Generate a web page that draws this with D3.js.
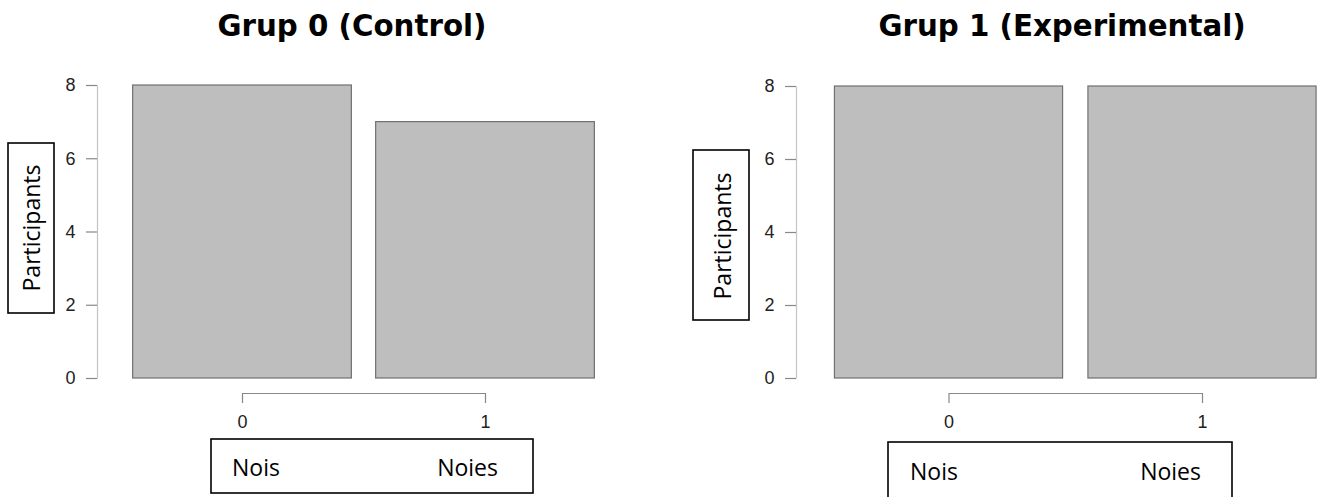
<!DOCTYPE html>
<html>
<head>
<meta charset="utf-8">
<script src="https://cdn.jsdelivr.net/npm/d3@7/dist/d3.min.js"></script>
<style>
  html, body { margin: 0; padding: 0; background: #fff; }
  svg { display: block; }
</style>
</head>
<body>
<svg id="chart" width="1325" height="497"></svg>
<script>
// ---- data ----
const categories = [0, 1];
const groupTitles = ["Grup 0 (Control)", "Grup 1 (Experimental)"];
const controlCounts = [8, 7];
const experimentalCounts = [8, 8];
const yTicks = [0, 2, 4, 6, 8];
const xLabels = ["Nois", "Noies"];
const yLabel = "Participants";

// ---- layout (positions only) ----
const panels = [
  { title: groupTitles[0], values: controlCounts, titleX: 352,
    xRange: [242, 485], yRange: [378, 85], axisX: 97, axisY: 393,
    ybox: [8, 143, 46, 170], ylabel: [31, 228],
    xbox: [211, 439, 322, 54], xtext: [232, 498, 476] },
  { title: groupTitles[1], values: experimentalCounts, titleX: 1062,
    xRange: [948.5, 1202], yRange: [378, 86], axisX: 796, axisY: 393,
    ybox: [693, 150, 56, 170], ylabel: [722, 236],
    xbox: [888, 442, 344, 70], xtext: [910, 1201, 480] }
];

const svg = d3.select("#chart");

function styleTickText(sel) {
  sel.selectAll(".tick text")
    .attr("font-family", "Liberation Sans")
    .attr("font-size", "18px")
    .attr("fill", "#222");
}

panels.forEach(p => {
  const g = svg.append("g");
  const x = d3.scaleLinear().domain([0, 1]).range(p.xRange);
  const y = d3.scaleLinear().domain([0, 8]).range(p.yRange);
  const halfW = 0.45;

  // title
  g.append("text")
    .attr("x", p.titleX).attr("y", 36)
    .attr("text-anchor", "middle")
    .attr("font-family", "DejaVu Sans")
    .attr("font-weight", "bold")
    .attr("font-size", 29.3)
    .attr("fill", "#000")
    .text(p.title);

  // bars
  g.selectAll("rect.bar").data(categories).enter().append("rect")
    .attr("class", "bar")
    .attr("x", d => x(d - halfW))
    .attr("width", d => x(d + halfW) - x(d - halfW))
    .attr("y", (d, i) => y(p.values[i]))
    .attr("height", (d, i) => y(0) - y(p.values[i]))
    .attr("fill", "#bebebe")
    .attr("stroke", "#707070")
    .attr("stroke-width", 1.2);

  // y axis
  const yAxis = d3.axisLeft(y).tickValues(yTicks).tickSize(11).tickPadding(10.5).tickSizeOuter(0);
  const ya = g.append("g").attr("transform", `translate(${p.axisX},0)`).call(yAxis);
  ya.attr("font-size", null).attr("font-family", null);
  ya.select(".domain").attr("stroke", "#c4c4c4").attr("stroke-width", 1.2);
  ya.selectAll(".tick line").attr("stroke", "#888").attr("stroke-width", 1.2);
  styleTickText(ya);

  // x axis (bracket with ticks going down)
  const xAxis = d3.axisBottom(x).tickValues(categories).tickFormat(d3.format("d"))
    .tickSize(10).tickSizeOuter(0).tickPadding(12);
  const xa = g.append("g").attr("transform", `translate(0,${p.axisY})`).call(xAxis);
  xa.attr("font-size", null).attr("font-family", null);
  xa.select(".domain").attr("stroke", "#888").attr("stroke-width", 1.2);
  xa.selectAll(".tick line").attr("stroke", "#888").attr("stroke-width", 1.2);
  styleTickText(xa);

  // y label box
  g.append("rect")
    .attr("x", p.ybox[0]).attr("y", p.ybox[1])
    .attr("width", p.ybox[2]).attr("height", p.ybox[3])
    .attr("fill", "none").attr("stroke", "#000").attr("stroke-width", 1.6);
  g.append("text")
    .attr("transform", `translate(${p.ylabel[0]},${p.ylabel[1]}) rotate(-90)`)
    .attr("text-anchor", "middle").attr("dominant-baseline", "central")
    .attr("font-family", "Open Sans").attr("font-size", 23).attr("fill", "#000")
    .text(yLabel);

  // x label box
  g.append("rect")
    .attr("x", p.xbox[0]).attr("y", p.xbox[1])
    .attr("width", p.xbox[2]).attr("height", p.xbox[3])
    .attr("fill", "none").attr("stroke", "#000").attr("stroke-width", 1.6);
  g.append("text")
    .attr("x", p.xtext[0]).attr("y", p.xtext[2])
    .attr("font-family", "Open Sans").attr("font-size", 23).attr("fill", "#000")
    .text(xLabels[0]);
  g.append("text")
    .attr("x", p.xtext[1]).attr("y", p.xtext[2])
    .attr("text-anchor", "end")
    .attr("font-family", "Open Sans").attr("font-size", 23).attr("fill", "#000")
    .text(xLabels[1]);
});
</script>
</body>
</html>
